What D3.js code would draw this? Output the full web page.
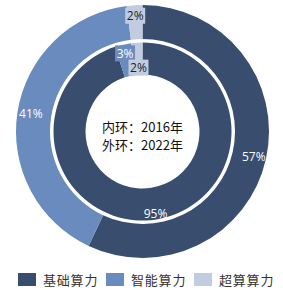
<!DOCTYPE html>
<html>
<head>
    <meta charset="utf-8">
    <title>算力结构</title>
    <style>
        body { margin: 0; background: #fff; }
        svg { display: block; font-family: "Open Sans", "Noto Sans CJK SC", sans-serif; }
    </style>
    <script src="https://cdnjs.cloudflare.com/ajax/libs/d3/7.8.5/d3.min.js"></script>
</head>
<body>
    <script>
        const categories = ["基础算力", "智能算力", "超算算力"]
        const inner2016 = [95, 3, 2]
        const outer2022 = [57, 41, 2]
        const centerLines = ["内环：2016年", "外环：2022年"]

        const colors = ["#394d6e", "#6a8bbd", "#c1cce1"]
        const labelText = ["#fff", "#fff", "#222"]

        const width = 283
        const height = 290
        const cx = 142.5
        const cy = 131.5

        const svg = d3.select("body").append("svg")
            .attr("width", width)
            .attr("height", height)

        const pie = d3.pie().sort(null).value(d => d)
        const color = d3.scaleOrdinal().domain(d3.range(3)).range(colors)

        const rings = [
            { values: inner2016, r0: 57, r1: 89, labelR: [83.5, 80, 64] },
            { values: outer2022, r0: 92.5, r1: 126.5, labelR: [114, 113, 116] }
        ]

        const g = svg.append("g").attr("transform", `translate(${cx},${cy})`)

        rings.forEach(ring => {
            const arc = d3.arc().innerRadius(ring.r0).outerRadius(ring.r1)
            const arcs = pie(ring.values)
            g.append("g").selectAll("path")
                .data(arcs)
                .join("path")
                    .attr("d", arc)
                    .attr("fill", (d, i) => color(i))

            const lab = g.append("g").selectAll("g")
                .data(arcs)
                .join("g")
                    .attr("transform", (d, i) => {
                        const a = (d.startAngle + d.endAngle) / 2
                        const r = ring.labelR[i]
                        return `translate(${r * Math.sin(a)},${-r * Math.cos(a)})`
                    })
            // small slices get a filled label box like the original
            lab.filter(d => d.value < 5).append("rect")
                .attr("x", -10).attr("y", -8)
                .attr("width", 20).attr("height", 16)
                .attr("fill", d => color(d.index))
            lab.append("text")
                .attr("text-anchor", "middle")
                .attr("dy", "0.36em")
                .attr("font-size", 12)
                .attr("fill", d => labelText[d.index])
                .text(d => d.value + "%")
        })

        g.append("g").selectAll("text")
            .data(centerLines)
            .join("text")
                .attr("text-anchor", "middle")
                .attr("y", (d, i) => -4 + i * 18)
                .attr("dy", "0.36em")
                .attr("font-size", 13)
                .attr("font-family", "Noto Sans CJK SC")
                .attr("fill", "#111")
                .text(d => d)

        // legend
        const legendX = [18, 106, 194]
        const legend = svg.append("g").selectAll("g")
            .data(categories)
            .join("g")
                .attr("transform", (d, i) => `translate(${legendX[i]},273)`)
        legend.append("rect")
            .attr("width", 18)
            .attr("height", 13)
            .attr("fill", (d, i) => color(i))
        legend.append("text")
            .attr("x", 25)
            .attr("y", 7)
            .attr("dy", "0.36em")
            .attr("font-size", 13)
            .attr("letter-spacing", 0.8)
            .attr("font-family", "Noto Sans CJK SC")
            .attr("fill", "#333")
            .text(d => d)
    </script>
</body>
</html>
